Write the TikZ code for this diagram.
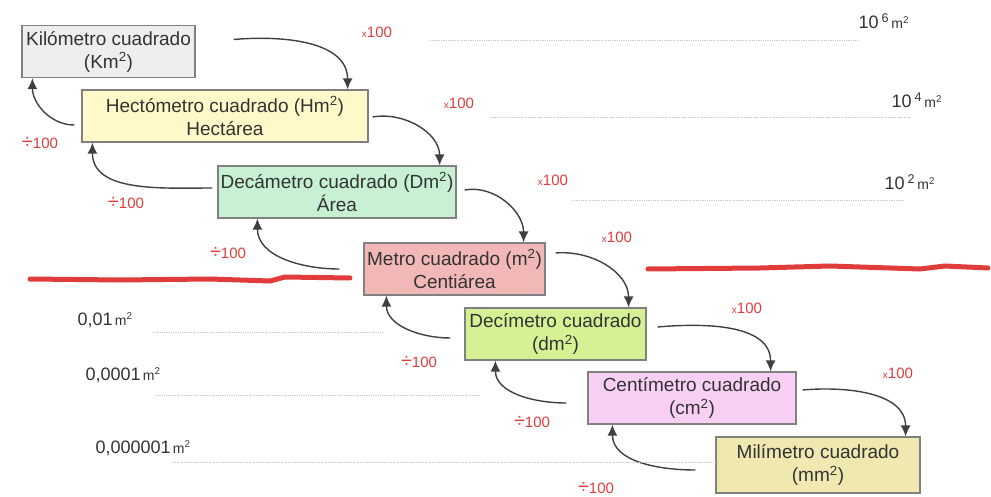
\documentclass[tikz,border=0pt]{standalone}
\usepackage{fontspec}
\setmainfont{Liberation Sans}
\usetikzlibrary{arrows.meta}
\definecolor{ink}{HTML}{333333}
\definecolor{rojo}{HTML}{E03C3C}
\definecolor{cKm}{HTML}{EEEEEE}
\definecolor{cHm}{HTML}{FFF8C8}
\definecolor{cDam}{HTML}{C8F0D2}
\definecolor{cM}{HTML}{F2B8B8}
\definecolor{cDm}{HTML}{D4F294}
\definecolor{cCm}{HTML}{F8D0F4}
\definecolor{cMm}{HTML}{EFE8B0}
\newcommand{\por}{{\fontsize{10}{10}\selectfont x}100}
\newcommand{\entre}{{\fontsize{20}{20}\selectfont ÷}100}
\newcommand{\mdos}{{\fontsize{14}{14}\selectfont\,m\textsuperscript{2}}}
\begin{document}
\begin{tikzpicture}[>={Latex[length=11pt,width=10pt]},x=1pt,y=-1pt,
  unidad/.style={draw=gray,line width=1.2pt,inner sep=0pt,align=center,text=ink,minimum height=52pt,font=\fontsize{19}{23}\selectfont},
  flecha/.style={->,draw=black!75,line width=1.4pt},
  factor/.style={text=rojo,inner sep=1pt,font=\fontsize{15}{16}\selectfont},
  pot/.style={text=ink,font=\fontsize{18}{20}\selectfont},
  guia/.style={draw=black!22,densely dotted,line width=0.8pt}]
\useasboundingbox (0,0) rectangle (991,497);
% unidades
\node[unidad,fill=cKm,minimum width=173pt](km) at (108.5,51.5){Kilómetro cuadrado\\(Km\textsuperscript{2})};
\node[unidad,fill=cHm,minimum width=286pt](hm) at (225,116){Hectómetro cuadrado (Hm\textsuperscript{2})\\Hectárea};
\node[unidad,fill=cDam,minimum width=238pt](dam) at (337,192){Decámetro cuadrado (Dm\textsuperscript{2})\\Área};
\node[unidad,fill=cM,minimum width=181pt](m) at (454.5,269){Metro cuadrado (m\textsuperscript{2})\\Centiárea};
\node[unidad,fill=cDm,minimum width=181pt](dm) at (555.5,334){Decímetro cuadrado\\(dm\textsuperscript{2})};
\node[unidad,fill=cCm,minimum width=208pt](cm) at (692,398){Centímetro cuadrado\\(cm\textsuperscript{2})};
\node[unidad,fill=cMm,minimum width=204pt,minimum height=56pt](mm) at (818,465){Milímetro cuadrado\\(mm\textsuperscript{2})};
% x100 hacia abajo
\draw[flecha]([xshift=38pt,yshift=12pt]km.east) to[out=5,in=90] ([xshift=-21pt]hm.north east);
\draw[flecha]([xshift=4pt,yshift=-1pt]hm.east) to[out=10,in=90] ([xshift=-17pt]dam.north east);
\draw[flecha]([xshift=8pt,yshift=2pt]dam.east) to[out=10,in=90] ([xshift=-22pt]m.north east);
\draw[flecha]([xshift=10pt,yshift=16pt]m.east) to[out=5,in=90] ([xshift=-18pt]dm.north east);
\draw[flecha]([xshift=11pt,yshift=7pt]dm.east) to[out=5,in=90] ([xshift=-26pt]cm.north east);
\draw[flecha]([xshift=6pt,yshift=8pt]cm.east) to[out=5,in=90] ([xshift=-15pt]mm.north east);
% :100 hacia arriba
\draw[flecha]([xshift=-7pt,yshift=-9pt]hm.west) to[out=180,in=-90] ([xshift=11pt]km.south west);
\draw[flecha]([xshift=-5pt,yshift=4pt]dam.west) to[out=180,in=-90] ([xshift=11pt]hm.south west);
\draw[flecha]([xshift=-24pt]m.west) to[out=180,in=-90] ([xshift=40pt]dam.south west);
\draw[flecha]([xshift=-14pt,yshift=-4pt]dm.west) to[out=180,in=-90] ([xshift=23pt]m.south west);
\draw[flecha]([xshift=-21pt,yshift=-5pt]cm.west) to[out=180,in=-90] ([xshift=31pt]dm.south west);
\draw[flecha]([xshift=-20pt,yshift=-5pt]mm.west) to[out=180,in=-90] ([xshift=25pt]cm.south west);
% factores
\node[factor](x1) at (377,32){\por};
\node[factor](x2) at (459,103){\por};
\node[factor](x3) at (553,180){\por};
\node[factor](x4) at (617,237){\por};
\node[factor](x5) at (747,308){\por};
\node[factor](x6) at (898,373){\por};
\node[factor](d1) at (40,143){\entre};
\node[factor](d2) at (126,203){\entre};
\node[factor](d3) at (228,253){\entre};
\node[factor](d4) at (419,362){\entre};
\node[factor](d5) at (532,422){\entre};
\node[factor](d6) at (596,488){\entre};
% equivalencias
\node[pot,anchor=west](e6) at (855,21){10\,\textsuperscript{6}\mdos};
\node[pot,anchor=west](e4) at (888,100){10\,\textsuperscript{4}\mdos};
\node[pot,anchor=west](e2) at (881,182){10\,\textsuperscript{2}\mdos};
\node[pot,anchor=west](f2) at (74,320){0,01\mdos};
\node[pot,anchor=west](f4) at (82,375){0,0001\mdos};
\node[pot,anchor=west](f6) at (92,448){0,000001\mdos};
\draw[guia](430,40)--(858,40);
\draw[guia](490,117)--(910,117);
\draw[guia](572,200)--(904,200);
\draw[guia](153,332)--(383,332);
\draw[guia](155,395)--(480,395);
\draw[guia](173,462)--(720,462);
% lineas rojas
\draw[rojo,line width=5pt,line cap=round](30,279)--(120,280)--(210,279)--(270,281)--(285,277)--(350,278);
\draw[rojo,line width=5pt,line cap=round](648,269)--(760,268)--(830,266)--(920,269)--(945,266)--(988,268);
\end{tikzpicture}
\end{document}
